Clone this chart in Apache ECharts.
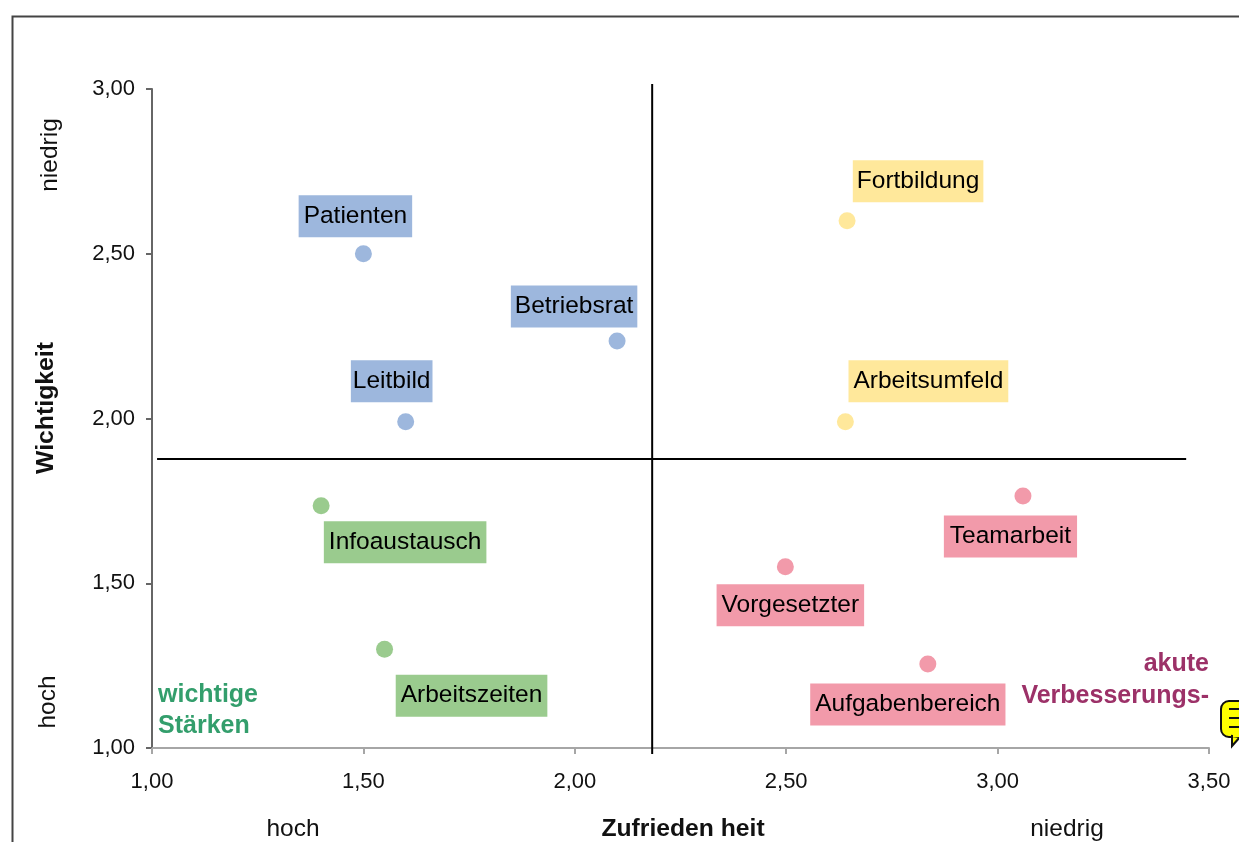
<!DOCTYPE html>
<html>
<head>
<meta charset="utf-8">
<style>
html, body { margin: 0; padding: 0; background: #fff; overflow: hidden; }
#chart { width: 1239px; height: 842px; }
</style>
<script src="https://cdn.jsdelivr.net/npm/echarts@6/dist/echarts.min.js"></script>
</head>
<body>
<div id="chart"></div>
<script>
const blueNames = ['Patienten', 'Betriebsrat', 'Leitbild']
const blueX = [1.50, 2.10, 1.60]
const blueY = [2.50, 2.235, 1.99]

const yellowNames = ['Fortbildung', 'Arbeitsumfeld']
const yellowX = [2.644, 2.64]
const yellowY = [2.60, 1.99]

const greenNames = ['Infoaustausch', 'Arbeitszeiten']
const greenX = [1.40, 1.55]
const greenY = [1.735, 1.30]

const redNames = ['Teamarbeit', 'Vorgesetzter', 'Aufgabenbereich']
const redX = [3.06, 2.498, 2.835]
const redY = [1.765, 1.55, 1.255]

const crossV = [[2.183, 3.015], [2.183, 0.982]]
const crossH = [[1.012, 1.877], [3.446, 1.877]]

// label box offset from the point and side padding, px
const labelBoxes = {
    Patienten: [-8, -37.5, 5],
    Betriebsrat: [-43, -34.5, 4],
    Leitbild: [-14, -40.5, 2],
    Fortbildung: [71, -39.5, 4],
    Arbeitsumfeld: [83, -40.5, 5],
    Infoaustausch: [84, 36.5, 5],
    Arbeitszeiten: [87, 46.5, 5],
    Teamarbeit: [-12.5, 40.5, 6],
    Vorgesetzter: [5, 38.5, 5],
    Aufgabenbereich: [-20, 40.5, 5]
}

const font = 'Liberation Sans'

function scatter(names, xs, ys, dot, box) {
    return {
        type: 'scatter',
        symbolSize: 17,
        itemStyle: { color: dot, opacity: 1 },
        data: names.map((n, i) => ({
            name: n,
            value: [xs[i], ys[i]],
            label: {
                show: true,
                position: 'inside',
                formatter: n,
                offset: labelBoxes[n].slice(0, 2),
                color: '#000',
                fontFamily: font,
                fontSize: 24.5,
                backgroundColor: box,
                padding: [10, labelBoxes[n][2], 7, labelBoxes[n][2]]
            }
        }))
    }
}

function crossLine(data) {
    return {
        type: 'line',
        data: data,
        symbol: 'none',
        clip: false,
        silent: true,
        lineStyle: { color: '#000', width: 2 }
    }
}

function label(text, x, y, size, color, extra) {
    return Object.assign({
        type: 'text',
        x: x,
        y: y,
        style: { text: text, font: size + ' ' + font, fill: color, textAlign: 'center', textVerticalAlign: 'middle' }
    }, extra)
}

const chart = echarts.init(document.getElementById('chart'))
const up = { rotation: Math.PI / 2 }

const axisNum = v => v.toFixed(2).replace('.', ',')

chart.setOption({
    animation: false,
    backgroundColor: '#fff',
    textStyle: { fontFamily: font },
    grid: { left: 152, right: 30, top: 89, bottom: 94 },
    xAxis: {
        type: 'value',
        min: 1,
        max: 3.5,
        interval: 0.5,
        splitLine: { show: false },
        axisLine: { onZero: false, lineStyle: { color: '#a6a6a6', width: 2 } },
        axisTick: { length: 6, lineStyle: { color: '#a6a6a6', width: 2 } },
        axisLabel: {
            color: '#111',
            fontSize: 22,
            margin: 23,
            formatter: axisNum,
            showMaxLabel: true,
            showMinLabel: true
        }
    },
    yAxis: {
        type: 'value',
        min: 1,
        max: 3,
        interval: 0.5,
        splitLine: { show: false },
        axisLine: { onZero: false, lineStyle: { color: '#666', width: 2 } },
        axisTick: { length: 6, lineStyle: { color: '#666', width: 2 } },
        axisLabel: {
            color: '#111',
            fontSize: 22,
            margin: 17,
            padding: [4, 0, 0, 0],
            formatter: axisNum
        }
    },
    series: [
        crossLine(crossV),
        crossLine(crossH),
        scatter(blueNames, blueX, blueY, '#9db7dd', '#9db7dd'),
        scatter(yellowNames, yellowX, yellowY, '#ffe89b', '#ffe89b'),
        scatter(greenNames, greenX, greenY, '#9acb8e', '#9acb8e'),
        scatter(redNames, redX, redY, '#f29aaa', '#f29aaa')
    ],
    graphic: [
        { type: 'rect', shape: { x: 12.5, y: 16.5, width: 1300, height: 900 }, style: { fill: 'none', stroke: '#444', lineWidth: 2 } },
        label('hoch', 293, 829.5, '24.5px', '#111'),
        label('Zufrieden heit', 683, 829.5, 'bold 24.7px', '#111'),
        label('niedrig', 1067, 829.5, '24.5px', '#111'),
        label('niedrig', 50, 155, '24.5px', '#111', up),
        label('hoch', 48, 702, '24.5px', '#111', up),
        label('Wichtigkeit', 46, 408, 'bold 24.8px', '#111', up),
        { type: 'text', x: 158, y: 695, style: { text: 'wichtige', font: 'bold 25px ' + font, fill: '#339e6c', textAlign: 'left', textVerticalAlign: 'middle' } },
        { type: 'text', x: 158, y: 726, style: { text: 'Stärken', font: 'bold 25px ' + font, fill: '#339e6c', textAlign: 'left', textVerticalAlign: 'middle' } },
        { type: 'text', x: 1209, y: 664, style: { text: 'akute', font: 'bold 25px ' + font, fill: '#9c3168', textAlign: 'right', textVerticalAlign: 'middle' } },
        { type: 'text', x: 1209, y: 696, style: { text: 'Verbesserungs-', font: 'bold 25px ' + font, fill: '#9c3168', textAlign: 'right', textVerticalAlign: 'middle' } },
        // note icon cut off by the right edge
        { type: 'rect', shape: { x: 1221, y: 701, width: 40, height: 36, r: 8 }, style: { fill: '#ffff00', stroke: '#111', lineWidth: 2 } },
        { type: 'polygon', shape: { points: [[1232, 736], [1232, 746], [1240, 737]] }, style: { fill: '#ffff00', stroke: '#111', lineWidth: 2 } },
        { type: 'rect', shape: { x: 1233, y: 733, width: 8, height: 4 }, style: { fill: '#ffff00' } },
        { type: 'line', shape: { x1: 1229, y1: 709, x2: 1239, y2: 709 }, style: { stroke: '#111', lineWidth: 2 } },
        { type: 'line', shape: { x1: 1229, y1: 718, x2: 1239, y2: 718 }, style: { stroke: '#111', lineWidth: 2 } },
        { type: 'line', shape: { x1: 1229, y1: 727, x2: 1239, y2: 727 }, style: { stroke: '#111', lineWidth: 2 } }
    ]
})

window.addEventListener('resize', () => {
    chart.resize()
})
</script>
</body>
</html>
